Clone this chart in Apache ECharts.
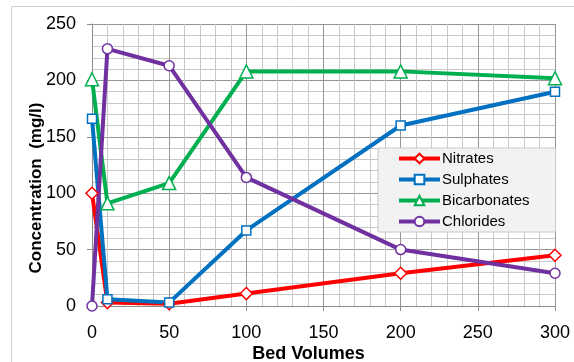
<!DOCTYPE html>
<html><head><meta charset="utf-8">
<script src="https://cdn.jsdelivr.net/npm/echarts@6/dist/echarts.min.js"></script>
<style>html,body{margin:0;padding:0;background:#fff}#c{width:574px;height:362px}</style>
</head><body><div id="c"></div>
<script>
const bedVolumes = [0, 10, 50, 100, 200, 300];
const nitrates = [100, 3, 2, 11, 29, 45];
const sulphates = [166, 6, 3, 67, 160, 190];
const bicarbonates = [201, 91, 109, 208, 208, 202];
const chlorides = [0, 228, 213, 114, 50, 29];
const seriesNames = ['Nitrates', 'Sulphates', 'Bicarbonates', 'Chlorides'];
const seriesColors = ['#ff0000', '#0070c0', '#00b050', '#7030a0'];
const seriesSymbols = ['diamond', 'rect', 'triangle', 'circle'];
const seriesSizes = [12, 9, 13, 10];
const seriesData = [nitrates, sulphates, bicarbonates, chlorides];

const chart = echarts.init(document.getElementById('c'), null, {renderer: 'canvas'});
const font = 'Liberation Sans';
chart.setOption({
  animation: false,
  graphic: [{type: 'rect', shape: {x: 11.5, y: 6.5, width: 700, height: 500}, style: {fill: 'none', stroke: '#d0d0d0', lineWidth: 1}, z: -10}],
  grid: {left: 92, right: 19, top: 24, bottom: 56, containLabel: false, outerBoundsMode: 'none'},
  xAxis: {
    type: 'value', min: 0, max: 300, interval: 50,
    axisLine: {show: true, lineStyle: {color: '#8c8c8c'}},
    axisTick: {show: true, length: 5, lineStyle: {color: '#8c8c8c'}},
    axisLabel: {fontFamily: font, fontSize: 18, color: '#000', margin: 18},
    splitLine: {show: true, lineStyle: {color: '#969696', width: 1}},
    minorTick: {show: true, splitNumber: 5, length: 0, lineStyle: {color: 'rgba(0,0,0,0)'}},
    minorSplitLine: {show: true, lineStyle: {color: '#c8c8c8', width: 1}},
    name: 'Bed Volumes', nameLocation: 'middle', nameGap: 39, nameMoveOverlap: false,
    nameTextStyle: {fontFamily: font, fontSize: 18, fontWeight: 'bold', color: '#000', padding: [0, 30, 0, 0]}
  },
  yAxis: {
    type: 'value', min: 0, max: 250, interval: 50,
    axisLine: {show: true, lineStyle: {color: '#8c8c8c'}},
    axisTick: {show: true, length: 5, lineStyle: {color: '#8c8c8c'}},
    axisLabel: {fontFamily: font, fontSize: 18, color: '#000', margin: 16},
    splitLine: {show: true, lineStyle: {color: '#969696', width: 1}},
    minorTick: {show: true, splitNumber: 5, length: 0, lineStyle: {color: 'rgba(0,0,0,0)'}},
    minorSplitLine: {show: true, lineStyle: {color: '#c8c8c8', width: 1}},
    name: 'Concentration  (mg/l)', nameLocation: 'middle', nameGap: 47, nameRotate: 90, nameMoveOverlap: false,
    nameTextStyle: {fontFamily: font, fontSize: 17, fontWeight: 'bold', color: '#000', padding: [0, 46, 0, 0]}
  },
  legend: {
    orient: 'vertical', left: 378, top: 148,
    backgroundColor: '#f2f2f2', borderColor: '#c8c8c8', borderWidth: 1, borderRadius: 0,
    padding: [3, 26, 3, 19], itemWidth: 41, itemHeight: 12, itemGap: 6,
    lineStyle: {width: 4},
    textStyle: {fontFamily: font, fontSize: 15, color: '#000', padding: [0, 0, 0, -3]},
    data: seriesNames
  },
  series: seriesNames.map((n, i) => ({
    name: n, type: 'line',
    data: bedVolumes.map((x, j) => [x, seriesData[i][j]]),
    symbol: seriesSymbols[i], symbolSize: seriesSizes[i], showAllSymbol: true,
    lineStyle: {color: seriesColors[i], width: 4},
    itemStyle: {color: '#fff', borderColor: seriesColors[i], borderWidth: 1.5},
    emphasis: {disabled: true}
  }))
});
</script></body></html>
